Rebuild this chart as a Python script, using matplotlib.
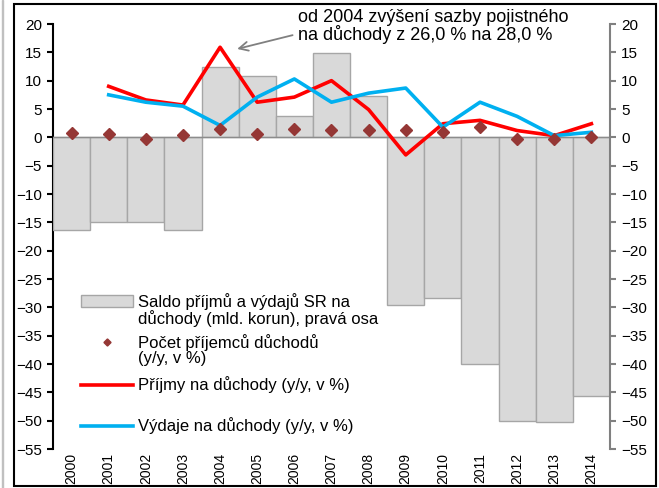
import matplotlib.pyplot as plt
from matplotlib.lines import Line2D
from matplotlib.patches import Rectangle

plt.rcParams['font.family'] = ['Liberation Sans', 'DejaVu Sans']

years = [str(y) for y in range(2000, 2015)]
# saldo prijmu a vydaju SR na duchody (mld. korun), prava osa
saldo = [-16.4, -15.0, -15.0, -16.4, 12.4, 10.8, 3.8, 14.9, 7.3,
         -29.6, -28.4, -40.0, -50.0, -50.3, -45.6]
# pocet prijemcu duchodu (y/y, v %)
pocet = [0.7, 0.6, -0.3, 0.4, 1.4, 0.6, 1.5, 1.35, 1.35, 1.35, 1.0, 1.8, -0.25, -0.25, 0.1]
# prijmy na duchody (y/y, v %), od 2001
prijmy = [None, 9.0, 6.6, 5.7, 15.9, 6.2, 7.1, 10.0, 4.9, -3.1, 2.4, 3.0, 1.2, 0.3, 2.4]
# vydaje na duchody (y/y, v %), od 2001
vydaje = [None, 7.5, 6.2, 5.5, 2.1, 7.1, 10.3, 6.2, 7.8, 8.7, 1.8, 6.2, 3.7, 0.3, 0.9]

yticks = list(range(-55, 21, 5))

fig = plt.figure(figsize=(6.59, 4.88), dpi=100)
ax = fig.add_axes([0.0804, 0.0799, 0.8452, 0.8709])
ax2 = ax.twinx()

x = list(range(len(years)))
bars = ax2.bar(x, saldo, width=1.0, color='#D9D9D9', edgecolor='#A6A6A6', lw=1, zorder=1)
ax2.axhline(0, color='#8C8C8C', lw=1, zorder=2)

px = [i for i, v in zip(x, prijmy) if v is not None]
l_prijmy, = ax2.plot(px, [v for v in prijmy if v is not None], color='#FF0000',
                     lw=2.6, zorder=3)
vx = [i for i, v in zip(x, vydaje) if v is not None]
l_vydaje, = ax2.plot(vx, [v for v in vydaje if v is not None], color='#00B0F0',
                     lw=2.6, zorder=3)
l_pocet, = ax2.plot(x, pocet, linestyle='none', marker='D', ms=6, color='#953735',
                    zorder=4)

for a in (ax, ax2):
    a.set_ylim(-55, 20)
    a.set_yticks(yticks)
    a.set_xlim(-0.5, 14.5)
    a.tick_params(axis='y', labelsize=11, length=4, pad=4)
    a.spines['top'].set_visible(False)
    a.spines['bottom'].set_visible(False)

ax.spines['right'].set_visible(False)
ax2.spines['left'].set_visible(False)
ax.spines['left'].set_linewidth(1.5)
ax2.spines['right'].set_color('#808080')
ax2.spines['right'].set_linewidth(1.5)
ax.tick_params(axis='y', width=1.5)
ax2.tick_params(axis='y', colors='#808080', labelcolor='black', width=1.5)

ax.set_xticks(x)
ax.set_xticklabels(years, rotation=90, fontsize=10)
ax.tick_params(axis='x', length=0, pad=3)
ax2.tick_params(axis='x', length=0)

ann = ax2.annotate('od 2004 zvýšení sazby pojistného\nna důchody z 26,0 % na 28,0 %',
                   xy=(4.46, 15.6), xytext=(6.1, 19.5), fontsize=13,
                   va='center', ha='left', linespacing=0.92,
                   arrowprops=dict(arrowstyle='->', color='#808080', lw=1.3,
                                   mutation_scale=16, shrinkA=2, shrinkB=0,
                                   relpos=(0, 0.3)))

blank = Line2D([], [], linestyle='none')
entries = [
    ([bars, blank], ['Saldo příjmů a výdajů SR na', 'důchody (mld. korun), pravá osa'], 310),
    ([l_pocet, blank], ['Počet příjemců důchodů', '(y/y, v %)'], 350),
    ([l_prijmy], ['Příjmy na důchody (y/y, v %)'], 385),
    ([l_vydaje], ['Výdaje na důchody (y/y, v %)'], 426),
]
for hs, ls, ypix in entries:
    fig.legend(hs, ls, loc='center left', bbox_to_anchor=(81 / 659, 1 - ypix / 488),
               frameon=False, fontsize=12, handlelength=3.1, handletextpad=0.35,
               labelspacing=0.0, borderpad=0, borderaxespad=0, markerscale=0.6)

fig.patches.append(Rectangle((14 / 659, 2 / 488), 642 / 659, 482 / 488,
                             transform=fig.transFigure, fill=False,
                             edgecolor='black', lw=1.5))
fig.patches.append(Rectangle((2 / 659, 0), 0.001, 1, transform=fig.transFigure,
                             fill=False, edgecolor='#C0C0C0', lw=1))

fig.savefig('out.png', dpi=100)
